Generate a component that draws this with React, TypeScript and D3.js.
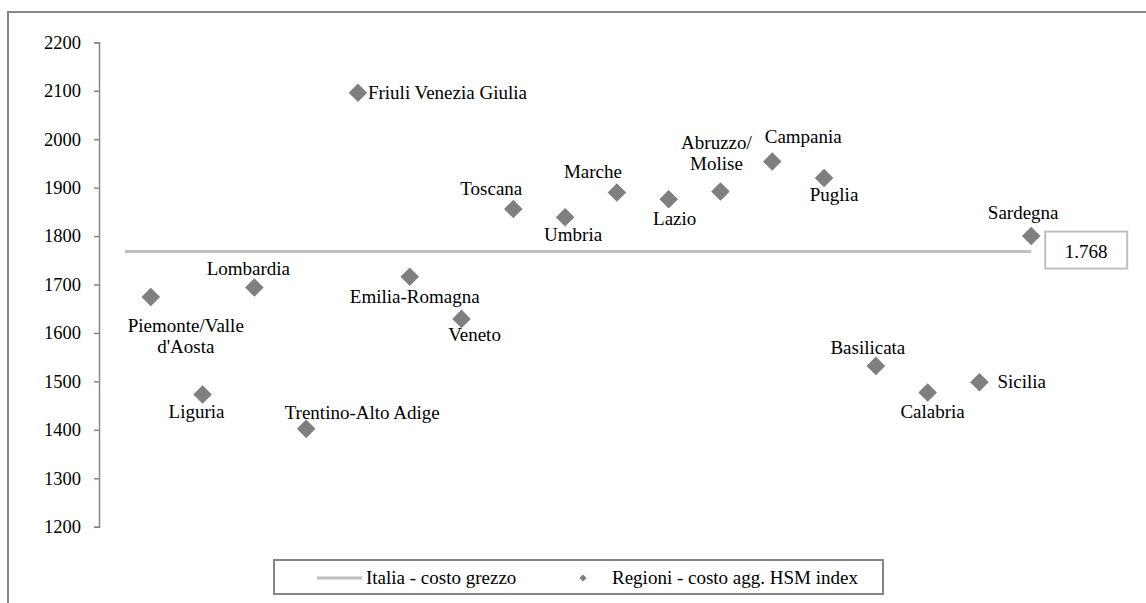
import React, { useRef, useEffect } from 'react';
import * as d3 from 'd3';

// regions, in chart order
const regions = [
  'Piemonte/Valle d\'Aosta', 'Liguria', 'Lombardia', 'Trentino-Alto Adige',
  'Friuli Venezia Giulia', 'Emilia-Romagna', 'Veneto', 'Toscana', 'Umbria',
  'Marche', 'Lazio', 'Abruzzo/ Molise', 'Campania', 'Puglia', 'Basilicata',
  'Calabria', 'Sicilia', 'Sardegna',
];
// costo agg. HSM index
const hsmCost = [
  1674, 1473, 1694, 1402, 2096, 1716, 1629, 1856, 1839,
  1890, 1876, 1892, 1954, 1920, 1532, 1477, 1498, 1800,
];
const italiaCost = 1768;
const italiaLabel = '1.768';
const yTicks = [1200, 1300, 1400, 1500, 1600, 1700, 1800, 1900, 2000, 2100, 2200];

// label placement (offset from the marker, anchor)
const labelPos: [number, number, string][] = [
  [35, 35, 'middle'], [-6, 24, 'middle'], [-6, -12, 'middle'], [56, -10, 'middle'],
  [10, 6, 'start'], [5, 26, 'middle'], [13, 22, 'middle'], [-22, -14, 'middle'],
  [8, 24, 'middle'], [-24, -14, 'middle'], [6, 26, 'middle'], [-4, -42, 'middle'],
  [31, -18, 'middle'], [10, 23, 'middle'], [-8, -12, 'middle'], [5, 25, 'middle'],
  [18, 6, 'start'], [-8, -17, 'middle'],
];
const labelLines: Record<string, string[]> = {
  'Piemonte/Valle d\'Aosta': ['Piemonte/Valle', 'd\'Aosta'],
  'Abruzzo/ Molise': ['Abruzzo/', 'Molise'],
};

const W = 1146, H = 603;
const serif = 'Liberation Serif, DejaVu Serif, serif';

export default function App() {
  const svgRef = useRef<SVGSVGElement>(null);

  useEffect(() => {
    const svg = d3.select(svgRef.current);
    svg.selectAll('*').remove();

    const x = d3.scaleLinear().domain([0, 19]).range([99, 1083]);
    const y = d3.scaleLinear().domain([1200, 2200]).range([526.7, 42.3]);

    svg.append('rect').attr('width', W).attr('height', H).attr('fill', '#fff');

    // outer frame (runs off the image to the right and bottom)
    svg.append('rect')
      .attr('x', 8).attr('y', 12).attr('width', W + 20).attr('height', H + 20)
      .attr('fill', 'none').attr('stroke', '#868686').attr('stroke-width', 2);

    // y axis
    const yAxis = svg.append('g')
      .attr('transform', `translate(${x(0)},0)`)
      .call(d3.axisLeft(y).tickValues(yTicks).tickFormat(d3.format('d'))
        .tickSize(5).tickSizeOuter(5).tickPadding(13));
    yAxis.attr('font-family', null);
    yAxis.selectAll('path, line').attr('stroke', '#868686').attr('stroke-width', 1.5);
    yAxis.selectAll('text')
      .style('font-family', serif).attr('font-size', 18.5).attr('fill', '#000');

    // Italia line
    svg.append('line')
      .attr('x1', x(0.5)).attr('x2', x(18))
      .attr('y1', y(italiaCost)).attr('y2', y(italiaCost))
      .attr('stroke', '#bfbfbf').attr('stroke-width', 3);

    // value box
    const bx = x(18) + 14, by = y(italiaCost) - 20;
    svg.append('rect')
      .attr('x', bx).attr('y', by).attr('width', 82).attr('height', 37)
      .attr('fill', '#fff').attr('stroke', '#bfbfbf').attr('stroke-width', 2);
    svg.append('text')
      .attr('x', bx + 41).attr('y', by + 26).attr('text-anchor', 'middle')
      .style('font-family', serif).attr('font-size', 19).text(italiaLabel);

    // markers
    const diamond = d3.symbol().type(d3.symbolSquare).size(172);
    svg.selectAll('.pt')
      .data(hsmCost)
      .join('path')
      .attr('class', 'pt')
      .attr('d', diamond)
      .attr('transform', (d, i) => `translate(${x(i + 1)},${y(d)}) rotate(45)`)
      .attr('fill', '#7f7f7f');

    // labels
    regions.forEach((name, i) => {
      const [dx, dy, anchor] = labelPos[i];
      const lines = labelLines[name] || [name];
      const t = svg.append('text')
        .style('font-family', serif).attr('font-size', 19).attr('fill', '#000')
        .attr('text-anchor', anchor);
      lines.forEach((ln, j) => {
        t.append('tspan')
          .attr('x', x(i + 1) + dx)
          .attr('y', y(hsmCost[i]) + dy + j * 21)
          .text(ln);
      });
    });

    // legend
    const lg = svg.append('g');
    lg.append('rect')
      .attr('x', 274).attr('y', 560).attr('width', 609).attr('height', 34)
      .attr('fill', '#fff').attr('stroke', '#868686').attr('stroke-width', 2);
    lg.append('line')
      .attr('x1', 317).attr('x2', 362).attr('y1', 578).attr('y2', 578)
      .attr('stroke', '#bfbfbf').attr('stroke-width', 3);
    lg.append('text')
      .attr('x', 366).attr('y', 584).style('font-family', serif).attr('font-size', 19)
      .text('Italia - costo grezzo');
    lg.append('path')
      .attr('d', d3.symbol().type(d3.symbolSquare).size(26)())
      .attr('transform', 'translate(583,578) rotate(45)')
      .attr('fill', '#7f7f7f');
    lg.append('text')
      .attr('x', 612).attr('y', 584).style('font-family', serif).attr('font-size', 19)
      .text('Regioni - costo agg. HSM index');
  }, []);

  return (
    <svg ref={svgRef} width={W} height={H}
      style={{ position: 'absolute', left: 0, top: 0, display: 'block' }} />
  );
}
